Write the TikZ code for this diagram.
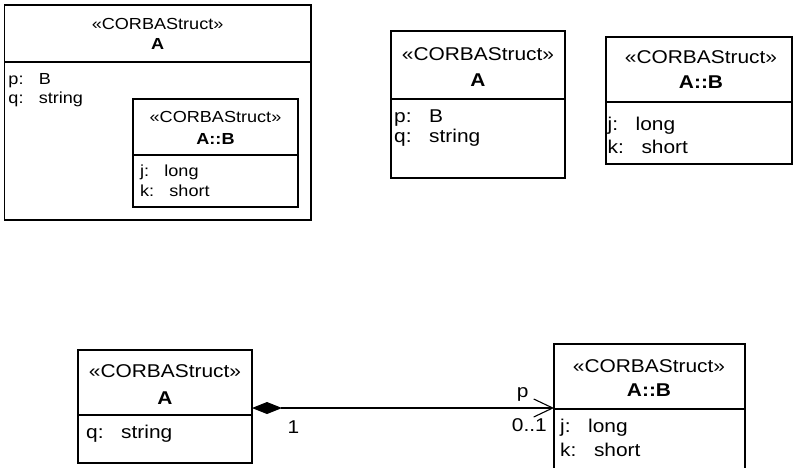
\documentclass[tikz,border=0pt]{standalone}
\usepackage{fontspec}
\setmainfont{Liberation Sans}
\newfontfamily\umlfont[FakeStretch=1.13]{Liberation Sans}
\usetikzlibrary{arrows.meta}
\tikzset{
 box/.style={draw, line width=1.1pt, anchor=north west, inner sep=0pt, outer sep=0pt},
 div/.style={line width=1.1pt},
 big/.style={font=\umlfont\fontsize{18.5}{20}\selectfont, inner sep=0pt, anchor=base},
 bigl/.style={big, anchor=base west},
 bige/.style={big, anchor=base east},
 small/.style={font=\umlfont\fontsize{16}{18}\selectfont, inner sep=0pt, anchor=base},
 smalll/.style={small, anchor=base west},
 assoc/.style={line width=1.1pt, {Diamond[length=30pt,width=12pt,fill=black]}-{Straight Barb[length=19pt,width=18pt]}}
}
\newcommand{\tb}{\hspace{0.95em}}
\begin{document}
\begin{tikzpicture}[x=1pt,y=-1pt]
\useasboundingbox (0,0) rectangle (793,467);
\clip (0,0) rectangle (793,467);
% Box 1 (nested)
\node[box, minimum width=306.7pt, minimum height=215pt] (a1) at (4.3,5) {};
\draw[div] (4.3,62) -- (311,62);
\node[small] (a1s) at (157.6,29) {«CORBAStruct»};
\node[small] (a1n) at (157.6,49.5) {\bfseries A};
\node[smalll] (a1p) at (8.3,84.5) {p:\tb B};
\node[smalll] (a1q) at (8.3,103.5) {q:\tb string};
\node[box, minimum width=165pt, minimum height=108pt] (b1) at (133,99) {};
\draw[div] (133,155) -- (298,155);
\node[small] (b1s) at (215.5,122.5) {«CORBAStruct»};
\node[small] (b1n) at (215.5,144) {\bfseries A::B};
\node[smalll] (b1j) at (140,176.7) {j:\tb long};
\node[smalll] (b1k) at (140,196.7) {k:\tb short};
% Box 2
\node[box, minimum width=174pt, minimum height=147pt] (a2) at (391,31) {};
\draw[div] (391,99) -- (565,99);
\node[big] (a2s) at (478,60) {«CORBAStruct»};
\node[big] (a2n) at (478,86) {\bfseries A};
\node[bigl] (a2p) at (394,122) {p:\tb B};
\node[bigl] (a2q) at (394,142) {q:\tb string};
% Box 3
\node[box, minimum width=186pt, minimum height=127pt] (b3) at (606,37) {};
\draw[div] (606,102) -- (792,102);
\node[big] (b3s) at (701,63) {«CORBAStruct»};
\node[big] (b3n) at (701,88) {\bfseries A::B};
\node[bigl] (b3j) at (607.5,130) {j:\tb long};
\node[bigl] (b3k) at (607.5,153) {k:\tb short};
% Box 4
\node[box, minimum width=174pt, minimum height=113pt] (a4) at (78,350) {};
\draw[div] (78,415) -- (252,415);
\node[big] (a4s) at (165,377) {«CORBAStruct»};
\node[big] (a4n) at (165,404) {\bfseries A};
\node[bigl] (a4q) at (86,438) {q:\tb string};
% Box 5
\node[box, minimum width=191pt, minimum height=140pt] (b5) at (554,344) {};
\draw[div] (554,409) -- (745,409);
\node[big] (b5s) at (649,372.7) {«CORBAStruct»};
\node[big] (b5n) at (649,396) {\bfseries A::B};
\node[bigl] (b5j) at (560,432) {j:\tb long};
\node[bigl] (b5k) at (560,456.5) {k:\tb short};
% Association
\coordinate (s) at ([yshift=-1.5pt]a4.east);
\draw[assoc] (s) -- (s -| b5.west);
\node[big] (lp) at (522.7,397) {p};
\node[bige] (lm) at (547,431.7) {0..1};
\node[big] (l1) at (293.5,433) {1};
\end{tikzpicture}
\end{document}
